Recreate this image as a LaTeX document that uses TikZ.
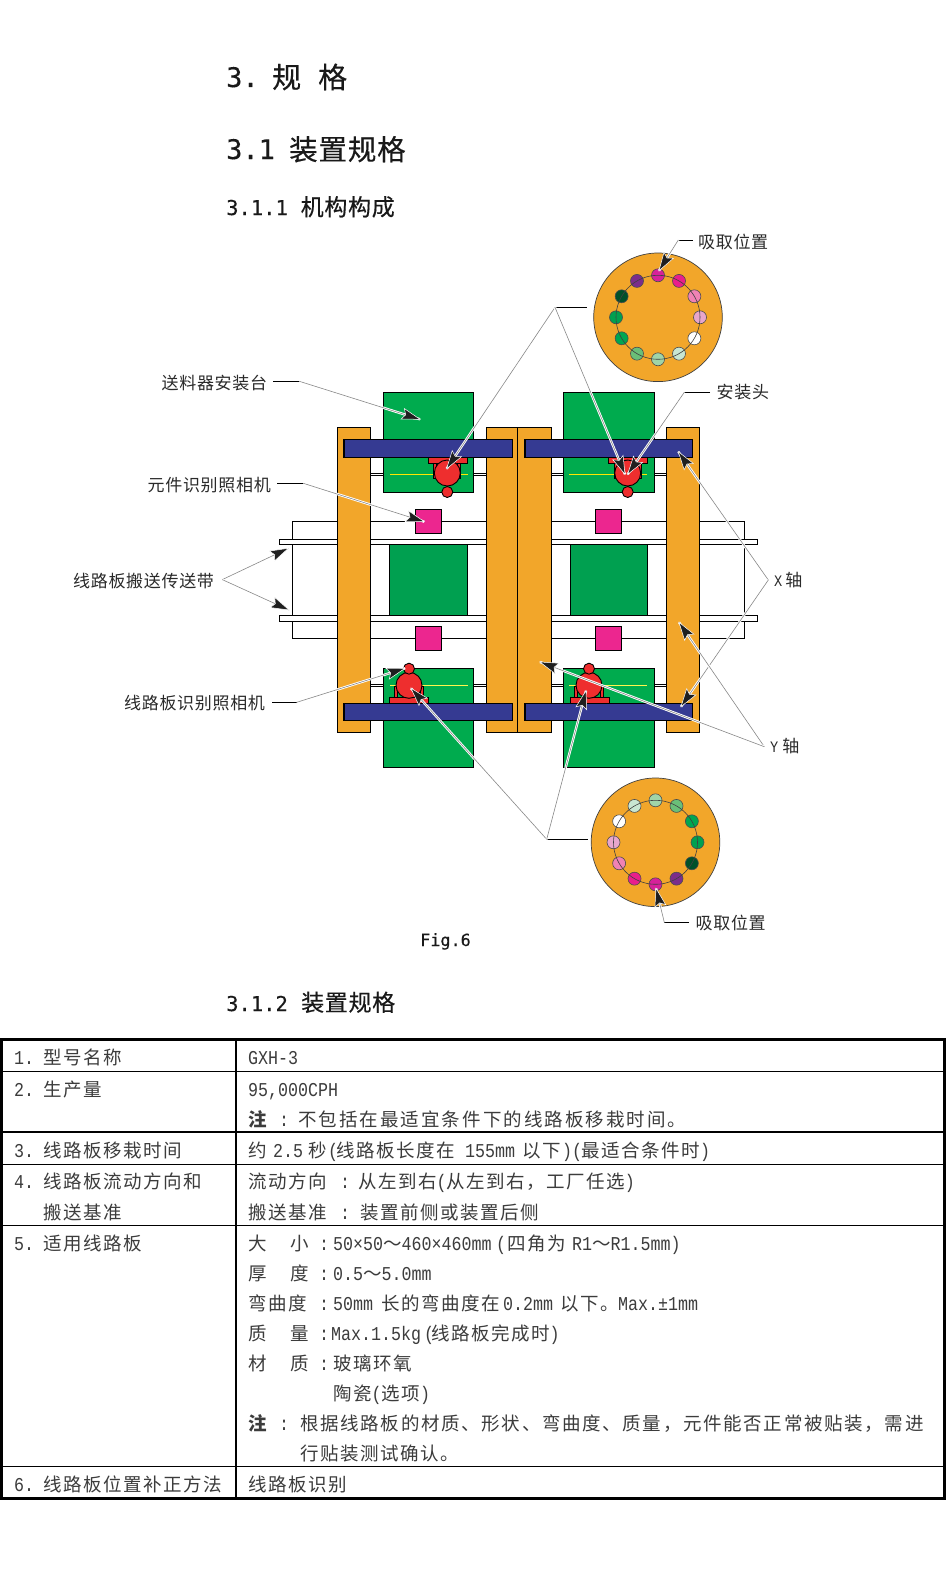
\documentclass[tikz,border=0pt]{standalone}
\usepackage{fontspec}
\usepackage{xcolor}
\usetikzlibrary{calc}
\setmainfont{Noto Sans CJK SC}
\newfontfamily\cjT{Noto Sans CJK SC}[LetterSpace=8]
\newfontfamily\cjM{Noto Sans CJK SC}[LetterSpace=9]
\newfontfamily\cjW{Noto Sans CJK SC}[LetterSpace=11]
\newfontfamily\cjL{Noto Sans CJK SC}[LetterSpace=4]
\newfontfamily\cjH{Noto Sans CJK SC}[LetterSpace=3,FakeBold=0.4]
\newfontfamily\latT{Liberation Mono}[FakeStretch=0.85]
\newfontfamily\hdL{DejaVu Sans Mono}[FakeBold=0.3]
\newcommand\la[1]{{\latT\fontsize{19.6}{20}\selectfont #1}}
\newcommand\wds[1]{{\cjW\fontsize{18.5}{20}\selectfont #1}}
\newcommand\mds[1]{{\cjM\fontsize{18.5}{20}\selectfont #1}}
\definecolor{orng}{HTML}{F2A62A}
\definecolor{grn}{HTML}{00AB4E}
\definecolor{dgrn}{HTML}{00A050}
\definecolor{blu}{HTML}{353A92}
\definecolor{mgt}{HTML}{EC268F}
\definecolor{rd}{HTML}{EE2E2E}
\definecolor{txt}{HTML}{3C3C3C}
\definecolor{leadc}{HTML}{888888}
\newcounter{tc}
\tikzset{
  tabtxt/.style={anchor=base west,inner sep=0pt,text=txt,font=\cjT\fontsize{18.5}{20}\selectfont},
  lbltxt/.style={anchor=base west,inner sep=0pt,text=txt!70!black,font=\cjL\fontsize{17}{20}\selectfont},
  hdtxt/.style={anchor=base west,inner sep=0pt,text=black!90},
  part/.style={draw=black,line width=1.2pt},
  thinred/.style={draw=black,line width=.9pt,fill=rd},
  stub/.style={draw=black,line width=.9pt},
  dotc/.style={draw=black!70,line width=.6pt},
}
\newcommand\tb[3]{\stepcounter{tc}\node[tabtxt] (t\thetc) at (#1,#2+6.7) {#3};}
\newcommand\arw[2]{%
  \draw[white,line width=2.4pt] (#1) -- (#2);
  \draw[leadc,line width=.6pt] (#1) -- (#2);
  \filldraw[fill=black!88,draw=white,line width=.5pt,line join=miter] (#2) -- ($(#2)!19pt!17:(#1)$) -- ($(#2)!15pt!(#1)$) -- ($(#2)!19pt!-17:(#1)$) -- cycle;
}
\newcommand\disc[4]{%
  \fill[orng,draw=black!75,line width=.7pt] (#1,#2) circle (64.3);
  \foreach \c [count=\i from 0] in {D6219A,E91E8C,F082B4,E8A6CC,FFFFFF,C8E6D2,A0D4A8,6ABF78,00A651,00A050,00502A,7B2D8B}{
    \definecolor{dc}{HTML}{\c}
    \fill[dc,dotc] ({#1+42*sin(#3+#4*30*\i)},{#2-42*cos(#3+#4*30*\i)}) circle (6.5);
  }
  \draw[black!75,line width=.6pt] (#1,#2) circle (42);
}
\begin{document}
\begin{tikzpicture}[x=1pt,y=-1pt]
\useasboundingbox (0,0) rectangle (946,1592);
\fill[white] (0,0) rectangle (946,1592);

% ---------- headings
\node[hdtxt] (h1a) at (226,87) {\hdL\fontsize{27}{27}\selectfont 3.};
\node[hdtxt,font=\cjH\fontsize{29}{30}\selectfont] (h1b) at (272,88) {规};
\node[hdtxt,font=\cjH\fontsize{29}{30}\selectfont] (h1c) at (318,88) {格};
\node[hdtxt] (h2a) at (226,159) {\hdL\fontsize{27}{27}\selectfont 3.1};
\node[hdtxt,font=\cjH\fontsize{28.5}{30}\selectfont] (h2b) at (289,160) {装置规格};
\node[hdtxt] (h3a) at (226,215) {\hdL\fontsize{20.5}{21}\selectfont 3.1.1};
\node[hdtxt,font=\cjH\fontsize{23}{24}\selectfont] (h3b) at (300.5,215.5) {机构构成};
\node[hdtxt] (fg) at (420,946) {\hdL\fontsize{16.8}{17}\selectfont Fig.6};
\node[hdtxt] (h4a) at (226,1011) {\hdL\fontsize{20.5}{21}\selectfont 3.1.2};
\node[hdtxt,font=\cjH\fontsize{23}{24}\selectfont] (h4b) at (301,1011) {装置规格};

% ---------- board outline and rails
\draw[part,fill=white] (292.3,521.3) rectangle (744.3,638.3);
\draw[part,fill=white] (279.3,539.3) rectangle (757.3,544.6);
\draw[part,fill=white] (279.3,615.3) rectangle (757.3,621.3);
\draw[black,line width=.9pt] (370,473.3) -- (666,473.3) (370,475.6) -- (666,475.6);
\draw[black,line width=.9pt] (370,684.3) -- (666,684.3) (370,686.6) -- (666,686.6);

% feeders
\draw[part,fill=grn] (383.3,392.3) rectangle (473.7,492.3);
\draw[part,fill=grn] (563.3,392.3) rectangle (654.7,492.3);
\draw[part,fill=grn] (383.3,668.3) rectangle (473.7,767.3);
\draw[part,fill=grn] (563.3,668.3) rectangle (654.7,767.3);
\draw[part,fill=dgrn] (389.3,544.7) rectangle (467.7,615.3);
\draw[part,fill=dgrn] (570.3,544.7) rectangle (647.7,615.3);
% cameras
\draw[part,fill=mgt] (415.3,509.3) rectangle (441.7,533.3);
\draw[part,fill=mgt] (595.3,509.3) rectangle (621.7,533.3);
\draw[part,fill=mgt] (415.3,626.3) rectangle (441.7,650.3);
\draw[part,fill=mgt] (595.3,626.3) rectangle (621.7,650.3);
% yellow lines
\draw[yellow!90!orange,line width=.9pt] (390,474.3) -- (468,474.3) (569,474.3) -- (647,474.3);
\draw[yellow!70!white,line width=.9pt] (390,685.3) -- (468,685.3) (569,685.3) -- (647,685.3);

% heads (top)
\foreach \hx/\px in {447.3/428.3,627.7/608.3}{
  \draw[thinred] ({\hx-13.6},463) rectangle ({\hx-10.4},478);
  \draw[thinred] ({\hx+10.4},463) rectangle ({\hx+13.6},478);
  \draw[thinred] (\px,456.7) rectangle ({\px+39.4},463.7);
  \draw[thinred] (\hx,473) circle (13);
  \draw[thinred] (\hx,492) circle (5.5);
}
% heads (bottom)
\foreach \hx/\px in {409/389.3,589/570.3}{
  \draw[thinred] ({\hx-14.3},686) rectangle ({\hx-11.3},698);
  \draw[thinred] ({\hx+11.7},686) rectangle ({\hx+14.7},698);
  \draw[thinred] (\px,697.3) rectangle ({\px+39},703.3);
  \draw[thinred] (\hx,685.3) circle (13);
  \draw[thinred] (\hx,668.7) circle (5.5);
}

% orange X-axis beams
\draw[part,fill=orng] (337.3,427.3) rectangle (370.7,732.3);
\draw[part,fill=orng] (666.3,427.3) rectangle (699.3,732.3);
\draw[part,fill=orng,line width=1.5pt] (486.3,427.3) rectangle (517.3,732.3);
\draw[part,fill=orng,line width=1.5pt] (517.3,427.3) rectangle (551.7,732.3);
% blue beams
\draw[part,fill=blu] (344,439.3) rectangle (512.7,457.7);
\draw[part,fill=blu] (525,439.3) rectangle (692.7,457.7);
\draw[part,fill=blu] (344,703.3) rectangle (512.7,720.7);
\draw[part,fill=blu] (525,703.3) rectangle (692.7,720.7);

% discs
\disc{658}{317.3}{0}{1}
\disc{655.5}{842.3}{180}{1}

% ---------- labels
\node[lbltxt] (lfeed) at (161.5,389.5) {送料器安装台};
\node[lbltxt] (lcam) at (147.5,491.3) {元件识别照相机};
\node[lbltxt] (lconv) at (73,587) {线路板搬送传送带};
\node[lbltxt] (lpcb) at (124,709.6) {线路板识别照相机};
\node[lbltxt] (lpick1) at (698,248.6) {吸取位置};
\node[lbltxt] (lhead) at (716.5,398) {安装头};
\node[lbltxt] (lpick2) at (695.5,929.6) {吸取位置};
\node[anchor=base west,inner sep=0pt,text=txt!70!black] (lx) at (774,586.6) {\latT\fontsize{16}{16}\selectfont X\hspace{3pt}{\cjL\fontsize{17}{20}\selectfont 轴}};
\node[anchor=base west,inner sep=0pt,text=txt!70!black] (ly) at (770,752.6) {\latT\fontsize{16}{16}\selectfont Y\hspace{4pt}{\cjL\fontsize{17}{20}\selectfont 轴}};

% ---------- leaders: named elbows, tips
\coordinate (e1a) at (273,381.3); \coordinate (e1b) at (299.3,381.3); \coordinate (t1) at (420,419.3);
\coordinate (e2a) at (277,483.3); \coordinate (e2b) at (303.3,483.3); \coordinate (t2) at (424.3,521.7);
\coordinate (e3) at (222.3,579.6); \coordinate (t3a) at (288.3,548.3); \coordinate (t3b) at (289,610);
\coordinate (e4a) at (272.3,702.3); \coordinate (e4b) at (296.7,702.3); \coordinate (t4) at (405,668.3);
\coordinate (e5a) at (586.7,307.3); \coordinate (e5b) at (555,307.3); \coordinate (t5a) at (446.7,468.7); \coordinate (t5b) at (625,474.3);
\coordinate (e6a) at (710,392.3); \coordinate (e6b) at (684.3,392.3); \coordinate (t6) at (627.7,474.3);
\coordinate (e7a) at (692.7,240); \coordinate (e7b) at (678.3,240); \coordinate (t7) at (659,270.7);
\coordinate (e8) at (768.3,580); \coordinate (t8a) at (678.3,451.7); \coordinate (t8b) at (681,706.7);
\coordinate (e9) at (764.3,746.7); \coordinate (t9a) at (679,622.3); \coordinate (t9b) at (540,662);
\coordinate (e10a) at (587.7,839.3); \coordinate (e10b) at (546.7,839.3); \coordinate (t10a) at (411,688.3); \coordinate (t10b) at (586,690.7);
\coordinate (e11a) at (689,922.3); \coordinate (e11b) at (664.3,922.3); \coordinate (t11) at (656,888.3);

\draw[stub] (e1a) -- (e1b); \arw{e1b}{t1}
\draw[stub] (e2a) -- (e2b); \arw{e2b}{t2}
\arw{e3}{t3a} \arw{e3}{t3b}
\draw[stub] (e4a) -- (e4b); \arw{e4b}{t4}
\draw[stub] (e5a) -- (e5b); \arw{e5b}{t5a} \arw{e5b}{t5b}
\draw[stub] (e6a) -- (e6b); \arw{e6b}{t6}
\draw[stub] (e7a) -- (e7b); \arw{e7b}{t7}
\arw{e8}{t8a} \arw{e8}{t8b}
\arw{e9}{t9a} \arw{e9}{t9b}
\draw[stub] (e10a) -- (e10b); \arw{e10b}{t10a} \arw{e10b}{t10b}
\draw[stub] (e11a) -- (e11b); \arw{e11b}{t11}

% ---------- table
\draw[black,line width=1.2pt] (236,1039.5) -- (236,1498);
\foreach \ry in {1071.3,1132,1164.3,1225.3,1466.3}{
  \draw[black,line width=1.1pt] (1,\ry) -- (944,\ry);
}
\draw[black,line width=2.8pt] (1.3,1039.5) rectangle (944.6,1498.7);

\tb{14}{1058}{\la{1.}} \tb{43}{1058}{型号名称} \tb{248}{1058}{\la{GXH-3}}
\tb{14}{1089.7}{\la{2.}} \tb{43}{1089.7}{生产量} \tb{248}{1089.7}{\la{95,000CPH}}
\tb{248}{1120}{\bfseries 注} \tb{279}{1120}{\la{:}} \tb{298}{1120}{\wds{不包括在最适宜条件下的线路板移栽时间。}}
\tb{14}{1151}{\la{3.}} \tb{43}{1151}{线路板移栽时间}
\tb{248}{1151}{约} \tb{273}{1151}{\la{2.5}} \tb{308}{1151}{秒} \tb{328}{1151}{\la{(}} \tb{336}{1151}{线路板长度在} \tb{465}{1151}{\la{155mm}} \tb{522}{1151}{以下} \tb{562}{1151}{\la{)(}} \tb{581}{1151}{最适合条件时} \tb{700}{1151}{\la{)}}
\tb{14}{1181.7}{\la{4.}} \tb{43}{1181.7}{线路板流动方向和} \tb{248}{1181.7}{流动方向} \tb{340}{1181.7}{\la{:}} \tb{358}{1181.7}{从左到右\la{(}从左到右，工厂任选\la{)}}
\tb{43}{1212.7}{搬送基准} \tb{248}{1212.7}{搬送基准} \tb{340}{1212.7}{\la{:}} \tb{360}{1212.7}{装置前侧或装置后侧}
\tb{14}{1243.3}{\la{5.}} \tb{43}{1243.3}{适用线路板}
\tb{248}{1243.3}{大} \tb{290}{1243.3}{小} \tb{319}{1243.3}{\la{:}} \tb{333}{1243.3}{\la{50×50}～\la{460×460mm}} \tb{496}{1243.3}{\la{(}} \tb{507}{1243.3}{四角为}
\tb{572}{1243.3}{\la{R1}～\la{R1.5mm)}}
\tb{248}{1273.3}{厚} \tb{290}{1273.3}{度} \tb{319}{1273.3}{\la{:}} \tb{333}{1273.3}{\la{0.5}～\la{5.0mm}}
\tb{248}{1304}{弯曲度} \tb{319}{1304}{\la{:}} \tb{333}{1304}{\la{50mm}} \tb{381}{1304}{长的弯曲度在} \tb{503}{1304}{\la{0.2mm}} \tb{560}{1304}{以下。} \tb{618}{1304}{\la{Max.±1mm}}
\tb{248}{1333.3}{质} \tb{290}{1333.3}{量} \tb{319}{1333.3}{\la{:}} \tb{331}{1333.3}{\la{Max.1.5kg}} \tb{424}{1333.3}{\la{(}} \tb{431}{1333.3}{线路板完成时\la{)}}
\tb{248}{1363.3}{材} \tb{290}{1363.3}{质} \tb{319}{1363.3}{\la{:}} \tb{333}{1363.3}{玻璃环氧}
\tb{333}{1393.3}{陶瓷\la{(}选项\la{)}}
\tb{248}{1423.3}{\bfseries 注} \tb{279}{1423.3}{\la{:}} \tb{300}{1423.3}{\mds{根据线路板的材质、形状、弯曲度、质量，元件能否正常被贴装，需进}}
\tb{300}{1453.3}{行贴装测试确认。}
\tb{14}{1485}{\la{6.}} \tb{43}{1485}{线路板位置补正方法} \tb{248}{1485}{线路板识别}
\end{tikzpicture}
\end{document}
